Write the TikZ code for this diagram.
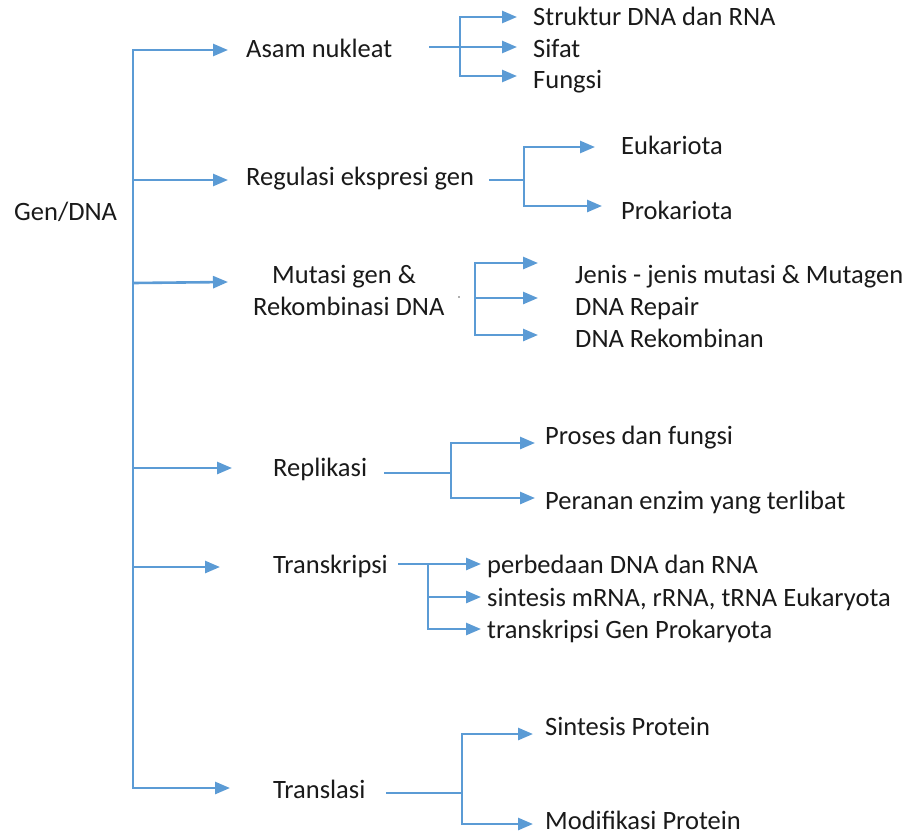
\documentclass[tikz,border=0pt]{standalone}
\usepackage{fontspec}
\setmainfont{Carlito}
\usetikzlibrary{arrows.meta}
\definecolor{lineblue}{HTML}{5B9BD5}
\definecolor{txt}{HTML}{1A1A1A}
\begin{document}
\begin{tikzpicture}[x=1pt,y=-1pt,
  lbl/.style={anchor=west,inner sep=0pt,text height=17pt,text depth=0pt,font=\fontsize{26.5}{31}\selectfont,text=txt},
  conn/.style={lineblue,line width=2.6pt,line cap=rect},
  arr/.style={lineblue,line width=2.6pt,-{Triangle[length=15pt,width=12pt]}}]
\useasboundingbox (0,0) rectangle (909,836);
\fill[white] (0,0) rectangle (909,836);

% main labels
\node[lbl] (gen) at (14,212) {Gen/DNA};
\node[lbl] (asam) at (246,49) {Asam nukleat};
\node[lbl] (reg) at (246,177) {Regulasi ekspresi gen};
\node[lbl] (mut) at (272,275) {Mutasi gen \&};
\node[lbl] (rek) at (253,307) {Rekombinasi DNA};
\node[lbl] (rep) at (273,468) {Replikasi};
\node[lbl] (tsk) at (273,565) {Transkripsi};
\node[lbl] (tsl) at (273,790) {Translasi};

% spine
\coordinate (s1) at (133,50);
\coordinate (s2) at (133,180);
\coordinate (s3) at (133,283);
\coordinate (s4) at (133,468);
\coordinate (s5) at (133,567);
\coordinate (s6) at (133,788);
\coordinate (t1) at (228,50);
\coordinate (t2) at (228,180);
\coordinate (t3) at (228,282);
\coordinate (t4) at (232,468);
\coordinate (t5) at (220,567);
\coordinate (t6) at (230,788);
\draw[conn] (s1) -- (s6);
\foreach \i in {1,...,6} {\draw[arr] (s\i) -- (t\i);}

% Asam nukleat branch
\node[lbl] (a1) at (533,17) {Struktur DNA dan RNA};
\node[lbl] (a2) at (533,49) {Sifat};
\node[lbl] (a3) at (533,80) {Fungsi};
\coordinate (ain) at (430,47);
\coordinate (aj) at (460,47);
\coordinate (ajt) at (460,17);
\coordinate (ajb) at (460,76);
\coordinate (at1) at (517,17);
\coordinate (at2) at (517,47);
\coordinate (at3) at (517,76);
\draw[conn] (ain) -- (aj);
\draw[conn] (ajt) -- (ajb);
\draw[arr] (ajt) -- (at1);
\draw[arr] (aj) -- (at2);
\draw[arr] (ajb) -- (at3);

% Regulasi branch
\node[lbl] (r1) at (621,146) {Eukariota};
\node[lbl] (r2) at (621,211) {Prokariota};
\coordinate (rin) at (490,180);
\coordinate (rj) at (524,180);
\coordinate (rjt) at (524,147);
\coordinate (rjb) at (524,206);
\coordinate (rt1) at (595,147);
\coordinate (rt2) at (602,206);
\draw[conn] (rin) -- (rj);
\draw[conn] (rjt) -- (rjb);
\draw[arr] (rjt) -- (rt1);
\draw[arr] (rjb) -- (rt2);

% Mutasi branch
\node[lbl] (m1) at (575,275) {Jenis - jenis mutasi \& Mutagen};
\node[lbl] (m2) at (575,307) {DNA Repair};
\node[lbl] (m3) at (575,339) {DNA Rekombinan};
\coordinate (mjt) at (475,263);
\coordinate (mj) at (475,298);
\coordinate (mjb) at (475,335);
\coordinate (mt1) at (538,263);
\coordinate (mt2) at (538,298);
\coordinate (mt3) at (538,335);
\draw[conn] (mjt) -- (mjb);
\draw[arr] (mjt) -- (mt1);
\draw[arr] (mj) -- (mt2);
\draw[arr] (mjb) -- (mt3);
\fill[txt!70] (459,297) circle (0.9pt);

% Replikasi branch
\node[lbl] (p1) at (545,436) {Proses dan fungsi};
\node[lbl] (p2) at (545,501) {Peranan enzim yang terlibat};
\coordinate (pin) at (385,473);
\coordinate (pj) at (451,473);
\coordinate (pjt) at (451,443);
\coordinate (pjb) at (451,498);
\coordinate (pt1) at (535,443);
\coordinate (pt2) at (535,498);
\draw[conn] (pin) -- (pj);
\draw[conn] (pjt) -- (pjb);
\draw[arr] (pjt) -- (pt1);
\draw[arr] (pjb) -- (pt2);

% Transkripsi branch
\node[lbl] (k1) at (487,565) {perbedaan DNA dan RNA};
\node[lbl] (k2) at (487,598) {sintesis mRNA, rRNA, tRNA Eukaryota};
\node[lbl] (k3) at (487,630) {transkripsi Gen Prokaryota};
\coordinate (kin) at (398,564);
\coordinate (kjt) at (428,564);
\coordinate (kj) at (428,597);
\coordinate (kjb) at (428,629);
\coordinate (kt1) at (481,564);
\coordinate (kt2) at (481,597);
\coordinate (kt3) at (481,629);
\draw[conn] (kjt) -- (kjb);
\draw[arr] (kin) -- (kt1);
\draw[arr] (kj) -- (kt2);
\draw[arr] (kjb) -- (kt3);

% Translasi branch
\node[lbl] (l1) at (545,727) {Sintesis Protein};
\node[lbl] (l2) at (545,821) {Modifikasi Protein};
\coordinate (lin) at (387,793);
\coordinate (lj) at (462,793);
\coordinate (ljt) at (462,734);
\coordinate (ljb) at (462,824);
\coordinate (lt1) at (533,734);
\coordinate (lt2) at (533,824);
\draw[conn] (lin) -- (lj);
\draw[conn] (ljt) -- (ljb);
\draw[arr] (ljt) -- (lt1);
\draw[arr] (ljb) -- (lt2);
\end{tikzpicture}
\end{document}
